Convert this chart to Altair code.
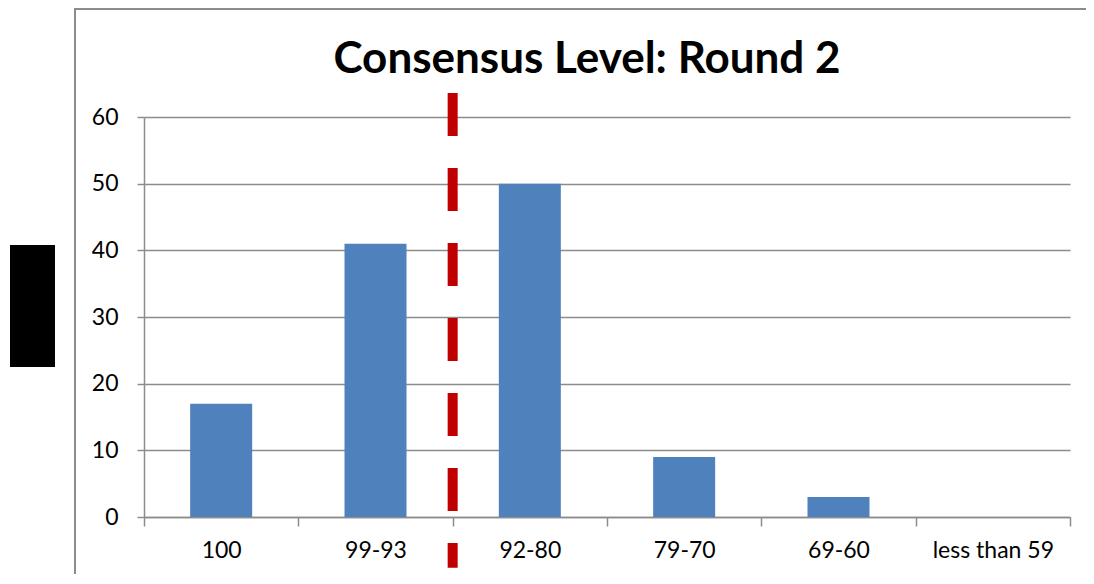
import altair as alt
import pandas as pd

categories = ["100", "99-93", "92-80", "79-70", "69-60", "less than 59"]
counts = [17, 41, 50, 9, 3, 0]
title_text = "Consensus Level: Round 2"
cut_category = "99-93"
cut_span = [63.6, -7.6]

FONT = "Lato"
GRAY = "#8c8c8c"
LABEL_SIZE = 23

bars_df = pd.DataFrame({"cat": categories, "n": counts})
cut_df = pd.DataFrame({"cat": [cut_category], "y": [cut_span[0]], "y2": [cut_span[1]]})
one = pd.DataFrame({"d": [0]})

xenc = alt.X(
    "cat:N",
    sort=categories,
    scale=alt.Scale(paddingInner=0, paddingOuter=0),
    axis=alt.Axis(
        title=None, labelAngle=0, labelFont=FONT, labelFontSize=LABEL_SIZE, labelColor="#000",
        domainColor=GRAY, domainWidth=1.5, tickColor=GRAY, tickWidth=1.5, tickSize=9,
        tickBand="extent", labelPadding=13, grid=False,
    ),
)
yscale = alt.Scale(domain=[0, 60], nice=False, zero=True)

bars = alt.Chart(bars_df).mark_bar(color="#4F81BD", size=62).encode(
    x=xenc,
    y=alt.Y(
        "n:Q",
        scale=yscale,
        axis=alt.Axis(
            title=None, values=[0, 10, 20, 30, 40, 50, 60], labelFont=FONT, labelFontSize=LABEL_SIZE,
            labelColor="#000", domainColor=GRAY, domainWidth=1.5, tickColor=GRAY, tickWidth=1.5,
            tickSize=7, labelPadding=19, gridColor=GRAY, gridWidth=1.5,
        ),
    ),
)

cut = alt.Chart(cut_df).mark_rule(
    color="#C00000", strokeWidth=10, strokeDash=[43, 32], strokeCap="butt"
).encode(
    x=alt.X("cat:N", sort=categories, bandPosition=1),
    y=alt.Y("y:Q", scale=yscale),
    y2="y2:Q",
)

title = alt.Chart(one).mark_text(
    text=title_text, font=FONT, fontSize=44, fontWeight="bold", color="#000",
    align="center", baseline="alphabetic",
).encode(x=alt.value(443), y=alt.value(-44))

border_left = alt.Chart(one).mark_rule(color=GRAY, strokeWidth=2).encode(
    x=alt.value(-69), y=alt.value(-108), y2=alt.value(457)
)
border_top = alt.Chart(one).mark_rect(color=GRAY, strokeWidth=0).encode(
    x=alt.value(-70), x2=alt.value(942), y=alt.value(-109), y2=alt.value(-107)
)

blackbox = alt.Chart(one).mark_rect(color="#000").encode(
    x=alt.value(-134), x2=alt.value(-89), y=alt.value(128), y2=alt.value(250)
)

chart = alt.layer(border_left, border_top, blackbox, bars, cut, title).properties(
    width=926, height=400,
    autosize=alt.AutoSizeParams(type="none"),
    padding={"left": 136, "top": 109, "right": 16, "bottom": 59},
).configure_view(stroke=None)

chart.save("out.html", embed_options={"renderer": "svg", "actions": False})
